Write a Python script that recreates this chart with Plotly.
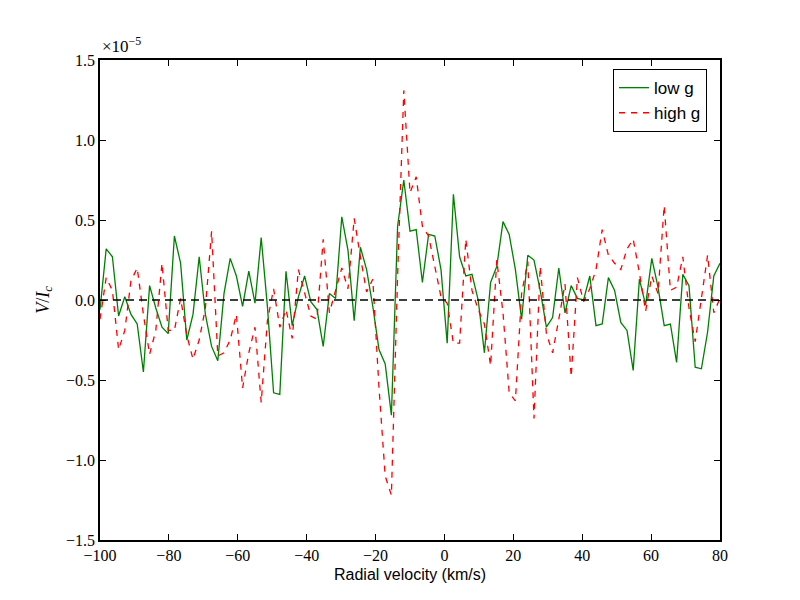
import numpy as np
import plotly.graph_objects as go

# radial velocity grid (km/s), 1.8 km/s steps
velocity = np.round(-100 + 1.8 * np.arange(101), 2)

# Stokes V / I_c in units of 1e-5
low_g = [
    -0.06, 0.32, 0.27, -0.10, 0.02, -0.09, -0.15, -0.45, 0.09, -0.05,
    -0.17, -0.21, 0.40, 0.23, -0.25, -0.09, 0.27, -0.09, -0.29, -0.38,
    0.04, 0.26, 0.15, -0.04, 0.18, -0.02, 0.39, -0.04, -0.58, -0.59,
    0.18, -0.16, 0.02, 0.15, -0.01, -0.06, -0.29, 0.04, 0.01, 0.52,
    0.31, -0.13, 0.33, 0.19, -0.04, -0.31, -0.40, -0.72, 0.46, 0.75,
    0.43, 0.44, 0.11, 0.41, 0.40, 0.19, -0.27, 0.66, 0.27, 0.15,
    0.16, 0.00, -0.33, 0.11, 0.21, 0.49, 0.41, 0.19, -0.12, 0.28,
    0.25, 0.06, -0.17, -0.11, 0.20, -0.08, 0.09, 0.01, 0.00, 0.15,
    -0.16, -0.15, 0.14, 0.06, -0.14, -0.19, -0.44, 0.13, -0.03, 0.26,
    0.08, -0.16, -0.15, -0.39, 0.16, 0.09, -0.42, -0.43, -0.20, 0.15,
    0.23,
]
high_g = [
    -0.12, 0.14, 0.06, -0.31, -0.19, 0.12, 0.20, -0.09, -0.34, -0.19,
    0.23, -0.19, -0.19, 0.01, -0.22, -0.37, -0.25, -0.05, 0.43, -0.35,
    -0.33, -0.25, -0.09, -0.55, -0.33, -0.17, -0.64, -0.13, 0.07, -0.17,
    -0.06, -0.24, 0.19, 0.05, -0.10, -0.12, 0.38, -0.08, 0.06, 0.20,
    0.07, 0.51, 0.27, 0.05, 0.13, -0.55, -1.10, -1.22, 0.15, 1.31,
    0.67, 0.77, 0.46, 0.40, 0.21, 0.02, -0.02, -0.27, -0.27, 0.38,
    0.06, -0.06, -0.15, -0.41, 0.25, -0.08, -0.58, -0.63, 0.04, 0.24,
    -0.74, 0.21, -0.21, -0.33, -0.12, 0.10, -0.48, 0.14, -0.01, 0.07,
    0.19, 0.44, 0.28, 0.23, 0.19, 0.32, 0.38, 0.17, -0.07, 0.15,
    0.04, 0.59, 0.06, 0.08, 0.27, -0.05, -0.26, 0.02, 0.28, -0.08,
    0.01,
]

x_ticks = [-100, -80, -60, -40, -20, 0, 20, 40, 60, 80]
y_ticks = [-1.5, -1.0, -0.5, 0.0, 0.5, 1.0, 1.5]

serif = "Liberation Serif"
sans = "Liberation Sans"

fig = go.Figure()
fig.add_trace(go.Scatter(x=velocity, y=low_g, mode="lines", name="low g",
                         line=dict(color="#008000", width=1.3)))
fig.add_trace(go.Scatter(x=velocity, y=high_g, mode="lines", name="high g",
                         line=dict(color="#ff0000", width=1.3, dash="6px,6px")))
fig.add_hline(y=0, line=dict(color="black", width=1.5, dash="8px,5px"))

axis_common = dict(showline=True, linecolor="black", linewidth=1.5, mirror="ticks",
                   ticks="inside", ticklen=6, tickwidth=1, tickcolor="black",
                   showgrid=False, zeroline=False, automargin=False,
                   tickfont=dict(family=serif, size=16, color="black"))

fig.update_xaxes(range=[-100, 80], tickvals=x_ticks,
                 title=dict(text="Radial velocity (km/s)", standoff=6,
                            font=dict(family=sans, size=16, color="black")),
                 **axis_common)
fig.update_yaxes(range=[-1.5, 1.5], tickvals=y_ticks, tickformat=".1f",
                 title=dict(text="<i>V</i>/<i>I</i><sub><i>c</i></sub>", standoff=12,
                            font=dict(family=serif, size=18, color="black")),
                 **axis_common)

fig.add_annotation(text="×10<sup>−5</sup>", xref="paper", yref="paper", x=0, y=1,
                   xanchor="left", yanchor="bottom", showarrow=False, yshift=2,
                   font=dict(family=serif, size=17, color="black"))

# page body adds an 8px offset, so the figure is drawn slightly smaller
fig.update_layout(
    width=792, height=592,
    margin=dict(l=92, r=80, t=52, b=60),
    paper_bgcolor="white", plot_bgcolor="white",
    legend=dict(x=0.979, y=0.981, xanchor="right", yanchor="top",
                bgcolor="white", bordercolor="black", borderwidth=1,
                font=dict(family=sans, size=17, color="black")),
)

fig.write_html("out.html")
